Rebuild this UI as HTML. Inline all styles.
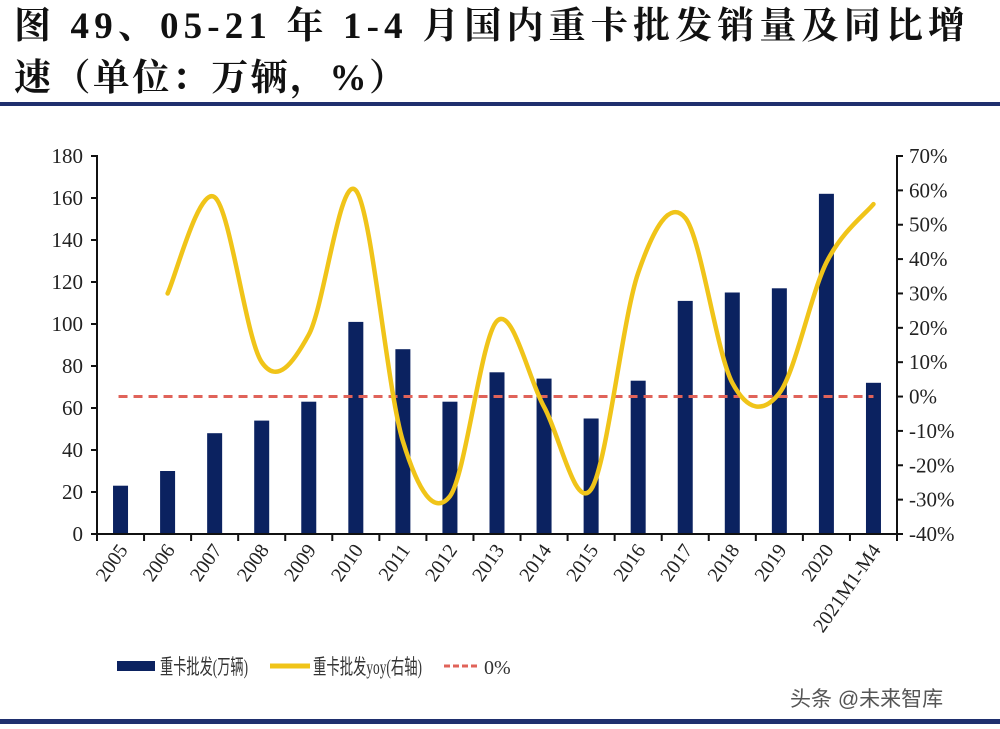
<!DOCTYPE html>
<html><head><meta charset="utf-8">
<style>
html,body{margin:0;padding:0;background:#fff;}
body{width:1000px;height:729px;overflow:hidden;position:relative;}
</style></head>
<body>
<svg id="chart" width="1000" height="729" style="position:absolute;left:0;top:0" font-family="Liberation Serif, Noto Serif CJK SC, serif">
<g font-weight="bold" font-size="37" fill="#111">
<text x="14" y="38" textLength="951" lengthAdjust="spacing">图 49、05-21 年 1-4 月国内重卡批发销量及同比增</text>
<text x="14" y="90" textLength="392" lengthAdjust="spacing">速（单位：万辆，%）</text>
</g>
<rect x="0" y="102" width="1000" height="4" fill="#1f2f6e"/>
<rect x="0" y="719" width="1000" height="5" fill="#1f2f6e"/>
<g id="plot"></g>
<g>
<rect x="117" y="661" width="38" height="10" fill="#0b2260"/>
<text x="160" y="674" font-size="21" textLength="88" lengthAdjust="spacingAndGlyphs" fill="#333" font-family="Liberation Serif, Noto Sans CJK SC, serif">重卡批发(万辆)</text>
<line x1="270" y1="666" x2="310" y2="666" stroke="#f0c419" stroke-width="5"/>
<text x="313" y="674" font-size="21" textLength="109" lengthAdjust="spacingAndGlyphs" fill="#333" font-family="Liberation Serif, Noto Sans CJK SC, serif">重卡批发yoy(右轴)</text>
<line x1="444" y1="666" x2="480" y2="666" stroke="#e0635a" stroke-width="3" stroke-dasharray="6,3"/>
<text x="484" y="674" font-size="20" fill="#333">0%</text>
</g>
<text x="790" y="706" font-size="21" fill="#555" font-family="Liberation Sans, Noto Sans CJK SC, sans-serif">头条 @未来智库</text>
</svg>
<script>
const categories=["2005","2006","2007","2008","2009","2010","2011","2012","2013","2014","2015","2016","2017","2018","2019","2020","2021M1-M4"];
const sales=[23,30,48,54,63,101,88,63,77,74,55,73,111,115,117,162,72];
const yoy=[null,30,58,10,18,60,-13,-29,22,-3,-27,36,52,4,1,39,56];
const leftTicks=[0,20,40,60,80,100,120,140,160,180];
const rightTicks=[-40,-30,-20,-10,0,10,20,30,40,50,60,70];
const X0=97,X1=897,Y0=534,Y1=156;
const step=(X1-X0)/categories.length;
const xc=i=>X0+step*(i+0.5);
const yL=v=>Y0-(v-0)/(180-0)*(Y0-Y1);
const yR=v=>Y0-(v+40)/(70+40)*(Y0-Y1);
const NS="http://www.w3.org/2000/svg";
const g=document.getElementById('plot');
function mk(t,a){const e=document.createElementNS(NS,t);for(const k in a)e.setAttribute(k,a[k]);g.appendChild(e);return e;}
sales.forEach((v,i)=>{const r=mk('rect',{x:xc(i)-7.5,y:yL(v),width:15,height:Y0-yL(v),fill:'#0b2260'});

});
const z=mk('line',{x1:xc(0)-2,x2:xc(16),y1:yR(0),y2:yR(0),stroke:'#e0635a','stroke-width':3,'stroke-dasharray':'9,6'});


const pts=[];yoy.forEach((v,i)=>{if(v!==null)pts.push([xc(i),yR(v)]);});
let d='M'+pts[0][0]+','+pts[0][1];
for(let i=0;i<pts.length-1;i++){const p0=pts[Math.max(0,i-1)],p1=pts[i],p2=pts[i+1],p3=pts[Math.min(pts.length-1,i+2)];
const c1=[p1[0]+(p2[0]-p0[0])/6,p1[1]+(p2[1]-p0[1])/6],c2=[p2[0]-(p3[0]-p1[0])/6,p2[1]-(p3[1]-p1[1])/6];
d+=' C'+c1+' '+c2+' '+p2;}
const ln=mk('path',{d:d,fill:'none',stroke:'#f0c419','stroke-width':4.5,'stroke-linecap':'round'});


const ax=mk('path',{d:`M${X0-6},${Y1}H${X0}V${Y0}H${X1}V${Y1}H${X1+6}`,fill:'none',stroke:'#111','stroke-width':2});


leftTicks.forEach(v=>{mk('line',{x1:X0-6,x2:X0,y1:yL(v),y2:yL(v),stroke:'#111','stroke-width':2});
const t=mk('text',{x:X0-14,y:yL(v)+7,'font-size':21,'text-anchor':'end',fill:'#222'});t.textContent=v;

});
rightTicks.forEach(v=>{mk('line',{x1:X1,x2:X1+6,y1:yR(v),y2:yR(v),stroke:'#111','stroke-width':2});
const t=mk('text',{x:X1+12,y:yR(v)+7,'font-size':21,fill:'#222'});t.textContent=v+'%';

});
for(let i=0;i<=categories.length;i++)mk('line',{x1:X0+step*i,x2:X0+step*i,y1:Y0,y2:Y0+7,stroke:'#111','stroke-width':2});
categories.forEach((c,i)=>{const x=xc(i)+8,y=Y0+16;
const t=mk('text',{x:x,y:y,'font-size':20,'text-anchor':'end',fill:'#222',transform:`rotate(-55 ${x} ${y})`});t.textContent=c;

});
</script>
</body></html>
